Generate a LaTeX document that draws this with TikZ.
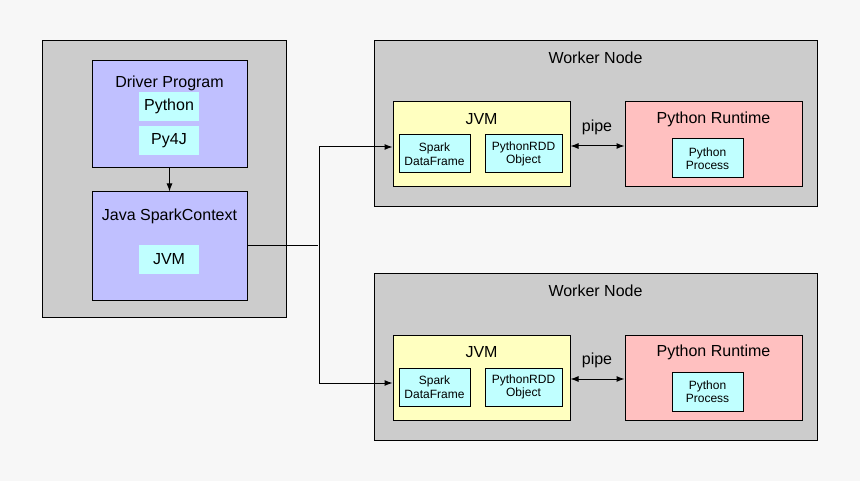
\documentclass[tikz,border=0pt]{standalone}
\usepackage{fontspec}
\setmainfont{Liberation Sans}
\usetikzlibrary{arrows.meta}
\definecolor{bgc}{HTML}{F7F7F7}
\definecolor{grayc}{HTML}{CCCCCC}
\definecolor{bluec}{HTML}{C0C0FF}
\definecolor{cyanc}{HTML}{C0FFFF}
\definecolor{yelc}{HTML}{FFFFC0}
\definecolor{pinkc}{HTML}{FFC0C0}
\tikzset{
  box/.style={draw=black, line width=1pt, inner sep=0pt, rectangle},
  graybox/.style={box, fill=grayc},
  bluebox/.style={box, fill=bluec},
  yelbox/.style={box, fill=yelc},
  pinkbox/.style={box, fill=pinkc},
  cyanplain/.style={rectangle, fill=cyanc, inner sep=0pt, font=\fontsize{16}{19}\selectfont},
  cyanbox/.style={box, fill=cyanc, align=center, font=\fontsize{12}{13.5}\selectfont},
  title/.style={inner sep=0pt, font=\fontsize{16}{19}\selectfont},
  conn/.style={line width=1pt, draw=black},
  arr/.style={conn, -{Latex[length=8pt,width=6pt]}},
  darr/.style={conn, {Latex[length=8pt,width=6pt]}-{Latex[length=8pt,width=6pt]}},
}
\begin{document}
\begin{tikzpicture}[x=1pt,y=-1pt]
\fill[bgc] (0,0) rectangle (860,481);
\useasboundingbox (0,0) rectangle (860,481);
% Driver side
\node[graybox, minimum width=244, minimum height=277] (outer) at (164,179.5) {};
\node[bluebox, minimum width=155, minimum height=107] (drv) at (169.5,114.5) {};
\node[title] (drvt) at (169.5,83.5) {Driver Program};
\node[cyanplain, minimum width=60, minimum height=29] (py) at (169,106.5) {Python};
\node[cyanplain, minimum width=60, minimum height=29] (py4j) at (169,140.5) {Py4J};
\node[bluebox, minimum width=155, minimum height=109] (sc) at (169.5,246.5) {};
\node[title] (sct) at (169.5,216.5) {Java SparkContext};
\node[cyanplain, minimum width=60, minimum height=29] (scjvm) at (169,259.5) {JVM};
\draw[arr] (drv.south) -- (sc.north);
% Workers
\foreach \i/\dy in {1/0,2/233}{
  \node[graybox, minimum width=443, minimum height=166] (w\i) at (595.5,124+\dy) {};
  \node[title] (wt\i) at (595.5,57.5+\dy) {Worker Node};
  \node[yelbox, minimum width=177, minimum height=85] (jvm\i) at (481.5,144.5+\dy) {};
  \node[title] (jvmt\i) at (481.5,119.5+\dy) {JVM};
  \node[cyanbox, minimum width=71, minimum height=38] (sdf\i) at (434.5,154+\dy) {Spark\\DataFrame};
  \node[cyanbox, minimum width=77, minimum height=38] (prdd\i) at (523.5,154+\dy) {PythonRDD\\Object};
  \node[pinkbox, minimum width=177, minimum height=85] (pr\i) at (713.5,144.5+\dy) {};
  \node[title] (prt\i) at (713.5,119.5+\dy) {Python Runtime};
  \node[cyanbox, minimum width=71, minimum height=39] (pp\i) at (707.5,158.5+\dy) {Python\\Process};
  \node[title] (pipe\i) at (597,127.5+\dy) {pipe};
  \draw[darr] ([yshift=-1.5]jvm\i.east) -- ([yshift=-1.5]pr\i.west);
}
% Connector
\coordinate (mid) at (318,246);
\coordinate (top) at (319,147);
\coordinate (bot) at (319,383);
\draw[conn] (sc.east |- mid) -- (mid);
\draw[arr] (bot) -- (top) -- (top -| jvm1.west);
\draw[arr] (bot) -- (bot -| jvm2.west);
\end{tikzpicture}
\end{document}
